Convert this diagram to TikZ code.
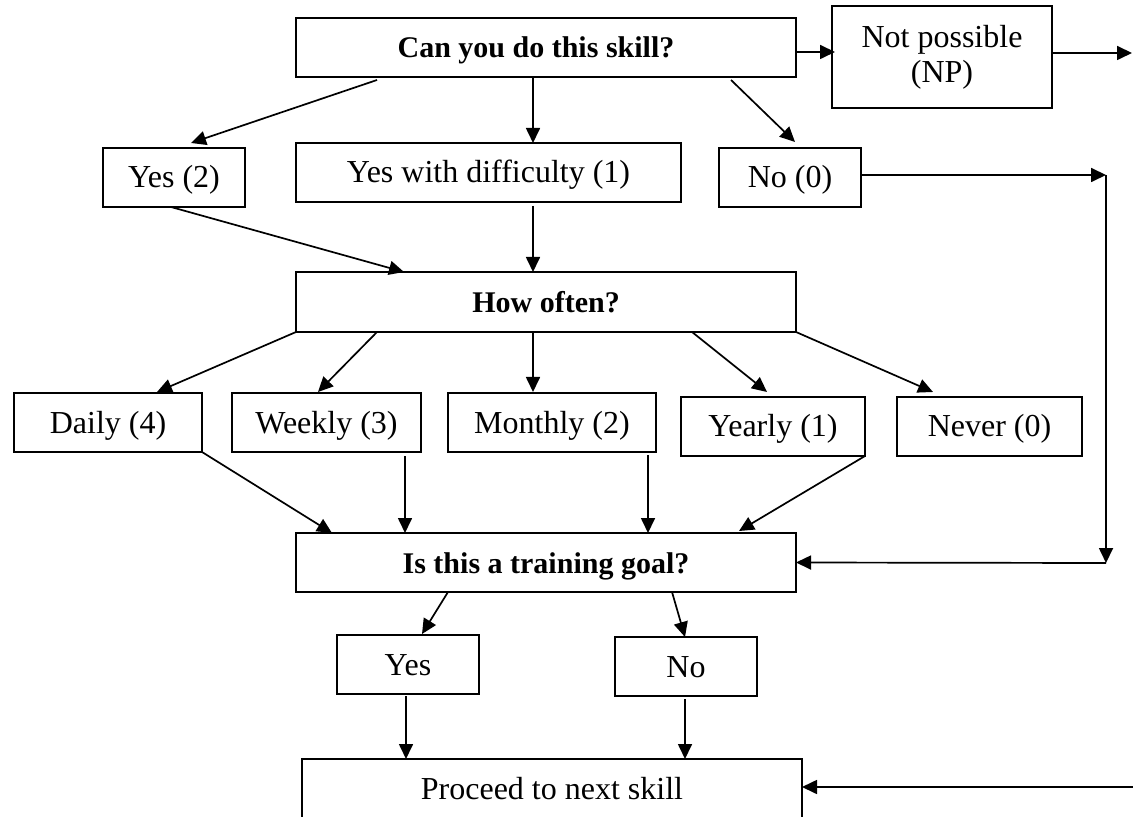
\documentclass[tikz,border=0pt]{standalone}
\usepackage{fontspec}
\setmainfont{Liberation Serif}
\usetikzlibrary{arrows.meta,calc}
\begin{document}
\begin{tikzpicture}[x=0.5pt,y=-0.5pt,
  box/.style={draw, line width=0.9pt, inner sep=0pt, outer sep=0pt, minimum height=29.5pt,
    font=\fontsize{16}{17.5}\selectfont, align=center},
  sbox/.style={box, text height=10.5pt, text depth=0pt},
  bbox/.style={sbox, font=\fontsize{15}{16.5}\selectfont\bfseries},
  arr/.style={line width=0.85pt, -{Triangle[length=7.5pt,width=7pt]}}]
\useasboundingbox (0,0) rectangle (1133,817);
% nodes
\node[bbox, minimum width=250pt] (can) at (546,47.5) {Can you do this skill?\hspace*{10pt}};
\node[box, minimum width=110pt, minimum height=51pt] (np) at (942,57) {Not possible\\(NP)};
\node[sbox, minimum width=71pt] (yes2) at (174,177.5) {Yes (2)};
\node[sbox, minimum width=192.5pt] (ywd) at (488.5,172.5) {Yes with difficulty (1)};
\node[sbox, minimum width=71pt] (no0) at (790,177.5) {No (0)};
\node[bbox, minimum width=250pt, minimum height=30pt] (how) at (546,302) {How often?};
\node[sbox, minimum width=94pt] (daily) at (108,422.5) {Daily (4)};
\node[sbox, minimum width=94.5pt] (weekly) at (326.5,422.5) {Weekly (3)};
\node[sbox, minimum width=104pt] (monthly) at (552,422.5) {Monthly (2)};
\node[sbox, minimum width=92pt] (yearly) at (773,426.5) {Yearly (1)};
\node[sbox, minimum width=92.5pt] (never) at (989.5,426.5) {Never (0)};
\node[bbox, minimum width=250pt] (train) at (546,562.5) {Is this a training goal?};
\node[sbox, minimum width=71pt] (yes) at (408,664.5) {Yes};
\node[sbox, minimum width=71pt] (no) at (686,666.5) {No};
\node[sbox, minimum width=250pt] (proc) at (552,788.5) {Proceed to next skill};
% free ends / corners
\coordinate (npout) at (1132,53);
\coordinate (c1) at (1106,175);
\coordinate (c2) at (1106,563);
\coordinate (rin) at (1134,787);
% connectors
\draw[arr] ($(can.east)+(0,4.5)$) -- ($(np.west)+(3,-5)$);
\draw[arr] ($(np.east)+(0,-4)$) -- (npout);
\draw[arr] ($(can.south west)+(81,3)$) -- ($(yes2.north west)+(88,-5)$);
\draw[arr] ($(can.south west)+(237,0)$) -- ($(ywd.north west)+(237,0)$);
\draw[arr] ($(can.south west)+(435,3)$) -- ($(no0.north west)+(76,-6)$);
\draw[arr] ($(no0.east)+(1,-2.5)$) -- (c1);
\draw[arr] (c1) -- (c2);
\draw[arr] (c2) -- (train.east);
\draw[arr] ($(yes2.south west)+(68,0)$) -- ($(how.north west)+(108,0)$);
\draw[arr] ($(ywd.south west)+(237,4)$) -- ($(how.north west)+(237,0)$);
\draw[arr] (how.south west) -- ($(daily.north west)+(143,-1)$);
\draw[arr] ($(how.south west)+(81,0)$) -- ($(weekly.north west)+(86,-1)$);
\draw[arr] ($(how.south west)+(237,0)$) -- ($(monthly.north west)+(85,-1)$);
\draw[arr] ($(how.south west)+(396,0)$) -- ($(yearly.north west)+(86,-5)$);
\draw[arr] (how.south east) -- ($(never.north west)+(36,-5)$);
\draw[arr] (daily.south east) -- ($(train.north west)+(36,0)$);
\draw[arr] ($(weekly.south west)+(173,4)$) -- ($(train.north west)+(109,0)$);
\draw[arr] ($(monthly.south west)+(200,3)$) -- ($(train.north west)+(352,0)$);
\draw[arr] (yearly.south east) -- ($(train.north west)+(443,-2)$);
\draw[arr] ($(train.south west)+(152,0)$) -- ($(yes.north west)+(85,-1)$);
\draw[arr] ($(train.south west)+(376,0)$) -- ($(no.north west)+(70,0)$);
\draw[arr] ($(yes.south west)+(69,2)$) -- ($(proc.north west)+(104,0)$);
\draw[arr] ($(no.south west)+(70,3)$) -- ($(proc.north west)+(383,0)$);
\draw[arr] (rin) -- ($(proc.east)+(0,-1.5)$);
\end{tikzpicture}
\end{document}
